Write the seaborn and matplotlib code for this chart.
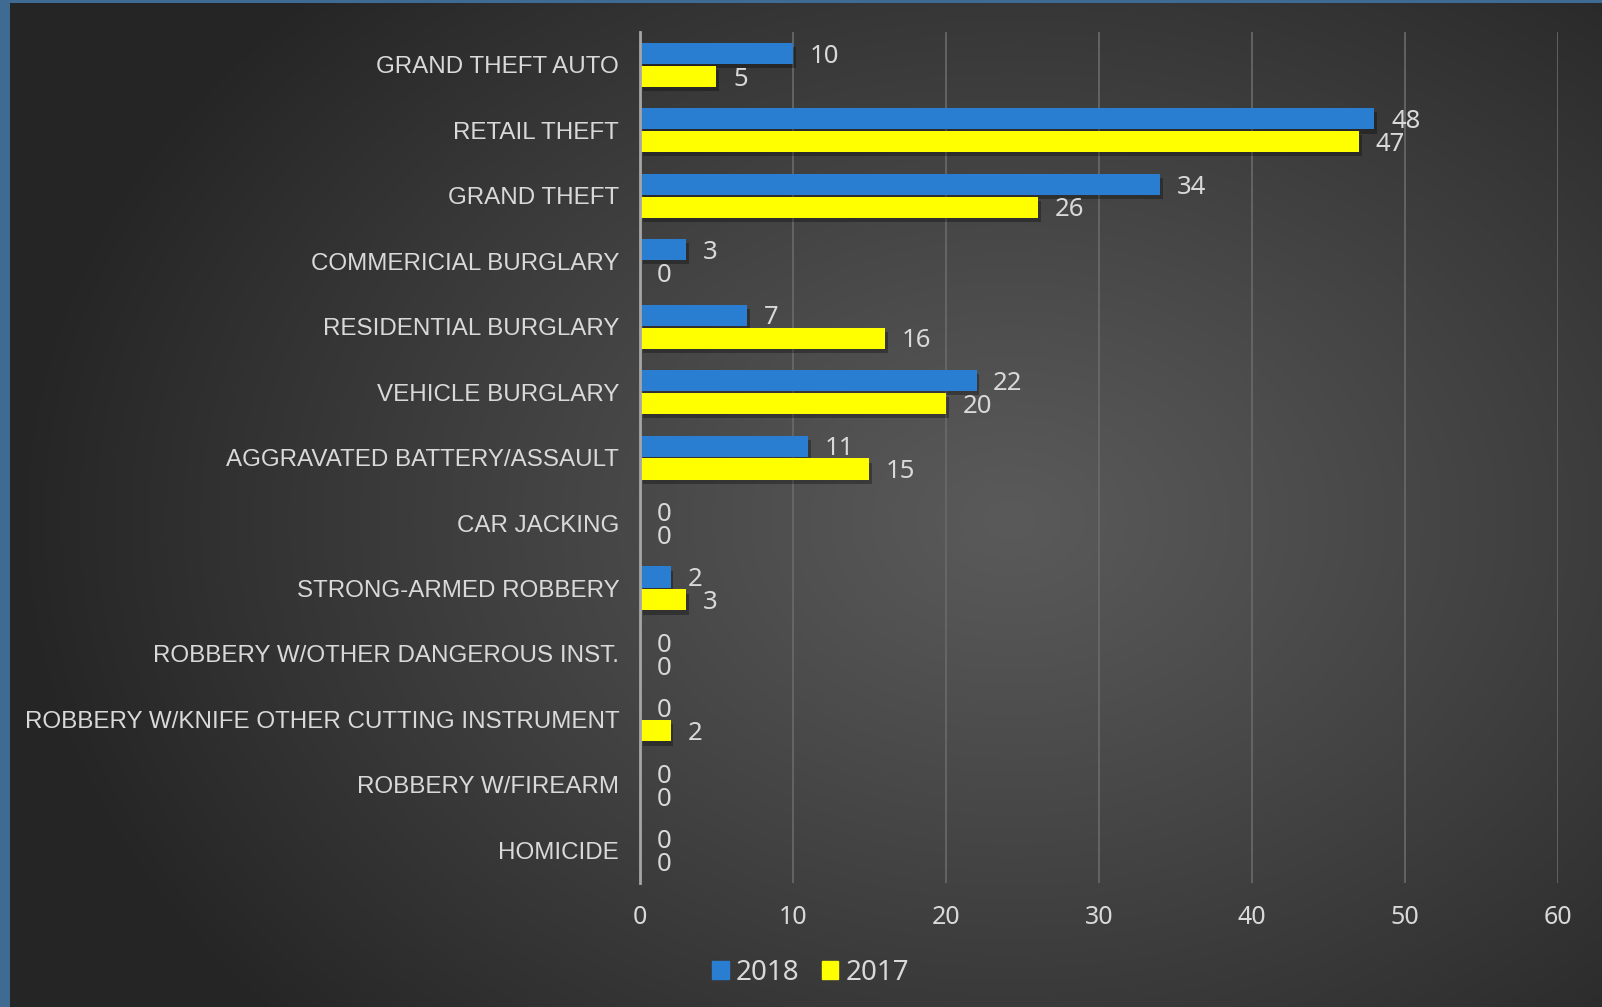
import matplotlib
matplotlib.use("Agg")
import matplotlib.pyplot as plt
import matplotlib.patheffects as pe
import numpy as np
import pandas as pd
import seaborn as sns

categories = [
    "GRAND THEFT AUTO",
    "RETAIL THEFT",
    "GRAND THEFT",
    "COMMERICIAL BURGLARY",
    "RESIDENTIAL BURGLARY",
    "VEHICLE BURGLARY",
    "AGGRAVATED BATTERY/ASSAULT",
    "CAR JACKING",
    "STRONG-ARMED ROBBERY",
    "ROBBERY W/OTHER DANGEROUS INST.",
    "ROBBERY W/KNIFE OTHER CUTTING INSTRUMENT",
    "ROBBERY W/FIREARM",
    "HOMICIDE",
]
values_2018 = [10, 48, 34, 3, 7, 22, 11, 0, 2, 0, 0, 0, 0]
values_2017 = [5, 47, 26, 0, 16, 20, 15, 0, 3, 0, 2, 0, 0]
years = ["2018", "2017"]
x_ticks = [0, 10, 20, 30, 40, 50, 60]

df = pd.DataFrame({
    "Category": categories * 2,
    "Count": values_2018 + values_2017,
    "Year": [years[0]] * len(categories) + [years[1]] * len(categories),
})

text_color = "#d9d9d9"
palette = {"2018": "#2a7ed2", "2017": "#ffff00"}

fig = plt.figure(figsize=(16.02, 10.07), dpi=100)

# radial gradient background with blue frame edges
bg = fig.add_axes([0, 0, 1, 1], zorder=-10)
h, w = 1007, 1602
yy, xx = np.mgrid[0:h, 0:w]
r = np.sqrt(((xx - 1010) / 1000.0) ** 2 + ((yy - 520) / 750.0) ** 2)
r = np.clip(r, 0, 1)
shade = 0x5a / 255 - (0x5a - 0x25) / 255 * r ** 1.1
img = np.dstack([shade, shade, shade])
img[:, :10] = np.array([0x3f, 0x6b, 0x92]) / 255
img[:3, :] = np.array([0x3f, 0x6b, 0x92]) / 255
bg.imshow(img, aspect="auto", extent=[0, 1, 0, 1], origin="upper")
bg.set_axis_off()

ax = fig.add_axes([0.3995, 0.1231, 0.573, 0.845])
ax.patch.set_alpha(0)
sns.barplot(data=df, y="Category", x="Count", hue="Year", palette=palette,
            orient="h", width=0.7, gap=0.08, saturation=1, ax=ax,
            legend=False, zorder=3)

shadow = [pe.SimplePatchShadow(offset=(2, -3), shadow_rgbFace="black", alpha=0.3), pe.Normal()]
for container in ax.containers:
    for bar in container:
        bar.set_path_effects(shadow)
        bar.set_edgecolor("none")
    labels = ax.bar_label(container, padding=12, color=text_color, fontsize=18.5,
                          fontfamily="Noto Sans")
    for lab in labels:
        lab.xyann = (12, -2)

ax.set_xlim(0, 60)
ax.set_xticks(x_ticks)
ax.set_xticklabels([str(t) for t in x_ticks], fontsize=18, color=text_color, fontfamily="Noto Sans")
ax.tick_params(axis="x", length=0, pad=16)
ax.tick_params(axis="y", length=0, pad=15, labelsize=17.4, labelcolor=text_color)
for lbl in ax.get_yticklabels():
    lbl.set_fontfamily("Liberation Sans")
ax.set_xlabel("")
ax.set_ylabel("")
ax.grid(axis="x", color="#6a6a6a", linewidth=1.2, zorder=0)
ax.set_axisbelow(True)
for side in ["top", "right", "bottom"]:
    ax.spines[side].set_visible(False)
ax.spines["left"].set_color("#a6a6a6")
ax.spines["left"].set_linewidth(2)
ax.spines["left"].set_zorder(4)

handles = [plt.Rectangle((0, 0), 1, 1, color=palette[y]) for y in years]
fig.legend(handles, years, loc="center", bbox_to_anchor=(0.506, 0.034), ncol=2,
           frameon=False, labelcolor=text_color, handlelength=0.6,
           handleheight=0.6, handletextpad=0.25, columnspacing=0.8,
           prop={"family": "Noto Sans", "size": 20})

fig.savefig("out.png", dpi=100)
